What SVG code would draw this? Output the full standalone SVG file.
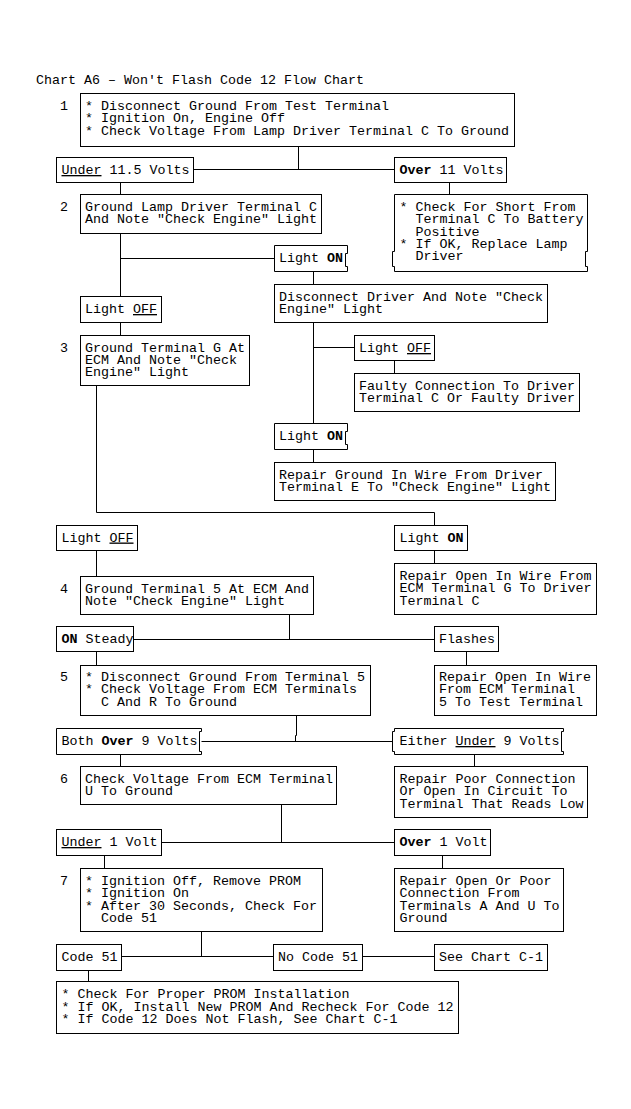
<svg xmlns="http://www.w3.org/2000/svg" width="631" height="1109" viewBox="0 0 631 1109">
<style>
.bx{fill:#fff;stroke:#000;stroke-width:1}
.c{fill:none;stroke:#000;stroke-width:1}
text{font-family:"Liberation Mono","DejaVu Sans Mono",monospace;font-size:13.33px;fill:#000}
.k{font-weight:bold}
.u{text-decoration:underline}
</style>
<rect width="631" height="1109" fill="#fff"/>
<text x="36" y="84">Chart A6 – Won't Flash Code 12 Flow Chart</text>
<g id="connectors">
<path class="c" d="M298.5 146.5V169.5M193.5 169.5H394.5M120.5 182.5V194.5M449.5 182.5V194.5"/>
<path class="c" d="M120.5 233.5V296.5M120.5 258.5H274.5M313.5 271.5V284.5"/>
<path class="c" d="M120.5 322.5V335.5M96.5 385.5V512.5M313.5 322.5V423.5M313.5 347.5H354.5M394.5 360.5V373.5M313.5 449.5V462.5"/>
<path class="c" d="M96.5 512.5H434.5V525.5M96.5 550.5V576.5M434.5 550.5V563.5"/>
<path class="c" d="M289.5 614.5V639.5M133.5 639.5H434.5M96.5 651.5V665.5M466.5 651.5V665.5"/>
<path class="c" d="M296.5 715.5V735.5H295.5V741.5M201.5 741.5H392.5M120.5 754.5V766.5M474.5 754.5V766.5"/>
<path class="c" d="M281.5 804.5V842.5M161.5 842.5H394.5M104.5 855.5V868.5M442.5 855.5V868.5"/>
<path class="c" d="M201.5 931.5V956.5M121.5 956.5H273.5M362.5 956.5H434.5M88.5 970.5V981.5"/>
</g>
<g id="step1">
<text x="60" y="110">1</text>
<rect class="bx" x="80.5" y="93.5" width="434" height="53"/>
<text><tspan x="85" y="110">* Disconnect Ground From Test Terminal</tspan><tspan x="85" y="122.3">* Ignition On, Engine Off</tspan><tspan x="85" y="134.6">* Check Voltage From Lamp Driver Terminal C To Ground</tspan></text>
</g>
<g id="under115">
<rect class="bx" x="56.5" y="157.5" width="137" height="25"/>
<text x="61.5" y="174"><tspan class="u">Under</tspan> 11.5 Volts</text>
</g>
<g id="over11">
<rect class="bx" x="394.5" y="157.5" width="112" height="25"/>
<text x="399.5" y="174"><tspan class="k">Over</tspan> 11 Volts</text>
</g>
<g id="step2">
<text x="60" y="211">2</text>
<rect class="bx" x="80.5" y="194.5" width="241" height="39"/>
<text><tspan x="85" y="211">Ground Lamp Driver Terminal C</tspan><tspan x="85" y="223.3">And Note "Check Engine" Light</tspan></text>
</g>
<g id="shortcheck">
<path class="bx" d="M394.5 194.5H587.5V251.5H585.5V266.5H587.5V271.5H394.5V266.5H392.5V251.5H394.5Z"/>
<text><tspan x="399.5" y="211">* Check For Short From</tspan><tspan x="415.5" y="223.3">Terminal C To Battery</tspan><tspan x="415.5" y="235.6">Positive</tspan><tspan x="399.5" y="247.9">* If OK, Replace Lamp</tspan><tspan x="415.5" y="260.2">Driver</tspan></text>
</g>
<g id="lighton1">
<path class="bx" d="M274.5 245.5H347.5V253.5H345.5V266.5H347.5V271.5H274.5Z"/>
<text x="279" y="262">Light <tspan class="k">ON</tspan></text>
</g>
<g id="disconnectdriver">
<rect class="bx" x="274.5" y="284.5" width="273" height="38"/>
<text><tspan x="279" y="300.5">Disconnect Driver And Note "Check</tspan><tspan x="279" y="312.8">Engine" Light</tspan></text>
</g>
<g id="lightoff1">
<rect class="bx" x="80.5" y="296.5" width="81" height="26"/>
<text x="85" y="313">Light <tspan class="u">OFF</tspan></text>
</g>
<g id="step3">
<text x="60" y="352">3</text>
<rect class="bx" x="80.5" y="335.5" width="169" height="50"/>
<text><tspan x="85" y="351.5">Ground Terminal G At</tspan><tspan x="85" y="363.8">ECM And Note "Check</tspan><tspan x="85" y="376.1">Engine" Light</tspan></text>
</g>
<g id="lightoff2">
<rect class="bx" x="354.5" y="335.5" width="80" height="25"/>
<text x="359" y="352">Light <tspan class="u">OFF</tspan></text>
</g>
<g id="faulty">
<rect class="bx" x="354.5" y="373.5" width="225" height="38"/>
<text><tspan x="359" y="389.5">Faulty Connection To Driver</tspan><tspan x="359" y="401.8">Terminal C Or Faulty Driver</tspan></text>
</g>
<g id="lighton2">
<path class="bx" d="M274.5 423.5H347.5V431.5H345.5V444.5H347.5V449.5H274.5Z"/>
<text x="279" y="440">Light <tspan class="k">ON</tspan></text>
</g>
<g id="repairground">
<rect class="bx" x="274.5" y="462.5" width="281" height="38"/>
<text><tspan x="279" y="478.5">Repair Ground In Wire From Driver</tspan><tspan x="279" y="490.8">Terminal E To "Check Engine" Light</tspan></text>
</g>
<g id="lightoff3">
<rect class="bx" x="56.5" y="525.5" width="81" height="25"/>
<text x="61.5" y="541.5">Light <tspan class="u">OFF</tspan></text>
</g>
<g id="lighton3">
<rect class="bx" x="394.5" y="525.5" width="73" height="25"/>
<text x="399.5" y="541.5">Light <tspan class="k">ON</tspan></text>
</g>
<g id="repairopeng">
<rect class="bx" x="394.5" y="563.5" width="202" height="51"/>
<text><tspan x="399.5" y="580">Repair Open In Wire From</tspan><tspan x="399.5" y="592.3">ECM Terminal G To Driver</tspan><tspan x="399.5" y="604.6">Terminal C</tspan></text>
</g>
<g id="step4">
<text x="60" y="592.5">4</text>
<rect class="bx" x="80.5" y="576.5" width="233" height="38"/>
<text><tspan x="85" y="592.5">Ground Terminal 5 At ECM And</tspan><tspan x="85" y="604.8">Note "Check Engine" Light</tspan></text>
</g>
<g id="onsteady">
<rect class="bx" x="56.5" y="626.5" width="77" height="25"/>
<text x="61.5" y="643"><tspan class="k">ON</tspan> Steady</text>
</g>
<g id="flashes">
<rect class="bx" x="434.5" y="626.5" width="64" height="25"/>
<text x="439" y="643">Flashes</text>
</g>
<g id="step5">
<text x="60" y="681">5</text>
<rect class="bx" x="80.5" y="665.5" width="290" height="50"/>
<text><tspan x="85" y="681">* Disconnect Ground From Terminal 5</tspan><tspan x="85" y="693.3">* Check Voltage From ECM Terminals</tspan><tspan x="101" y="705.6">C And R To Ground</tspan></text>
</g>
<g id="repairopen5">
<rect class="bx" x="434.5" y="665.5" width="162" height="50"/>
<text><tspan x="439" y="681">Repair Open In Wire</tspan><tspan x="439" y="693.3">From ECM Terminal</tspan><tspan x="439" y="705.6">5 To Test Terminal</tspan></text>
</g>
<g id="bothover9">
<path class="bx" d="M56.5 728.5H201.5V731.5H199.5V751.5H201.5V754.5H56.5Z"/>
<text x="61.5" y="745">Both <tspan class="k">Over</tspan> 9 Volts</text>
</g>
<g id="eitherunder9">
<path class="bx" d="M394.5 728.5H563.5V731.5H561.5V751.5H563.5V754.5H394.5V751.5H392.5V731.5H394.5Z"/>
<text x="399.5" y="745">Either <tspan class="u">Under</tspan> 9 Volts</text>
</g>
<g id="step6">
<text x="60" y="783">6</text>
<rect class="bx" x="80.5" y="766.5" width="256" height="38"/>
<text><tspan x="85" y="783">Check Voltage From ECM Terminal</tspan><tspan x="85" y="795.3">U To Ground</tspan></text>
</g>
<g id="repairpoor">
<rect class="bx" x="394.5" y="766.5" width="193" height="51"/>
<text><tspan x="399.5" y="783">Repair Poor Connection</tspan><tspan x="399.5" y="795.3">Or Open In Circuit To</tspan><tspan x="399.5" y="807.6">Terminal That Reads Low</tspan></text>
</g>
<g id="under1">
<rect class="bx" x="56.5" y="829.5" width="105" height="26"/>
<text x="61.5" y="846"><tspan class="u">Under</tspan> 1 Volt</text>
</g>
<g id="over1">
<rect class="bx" x="394.5" y="829.5" width="96" height="26"/>
<text x="399.5" y="846"><tspan class="k">Over</tspan> 1 Volt</text>
</g>
<g id="step7">
<text x="60" y="885">7</text>
<rect class="bx" x="80.5" y="868.5" width="242" height="63"/>
<text><tspan x="85" y="885">* Ignition Off, Remove PROM</tspan><tspan x="85" y="897.3">* Ignition On</tspan><tspan x="85" y="909.6">* After 30 Seconds, Check For</tspan><tspan x="101" y="921.9">Code 51</tspan></text>
</g>
<g id="repairopenpoor">
<rect class="bx" x="394.5" y="868.5" width="169" height="63"/>
<text><tspan x="399.5" y="885">Repair Open Or Poor</tspan><tspan x="399.5" y="897.3">Connection From</tspan><tspan x="399.5" y="909.6">Terminals A And U To</tspan><tspan x="399.5" y="921.9">Ground</tspan></text>
</g>
<g id="code51">
<rect class="bx" x="56.5" y="944.5" width="65" height="26"/>
<text x="61.5" y="961">Code 51</text>
</g>
<g id="nocode51">
<rect class="bx" x="273.5" y="944.5" width="89" height="26"/>
<text x="278" y="961">No Code 51</text>
</g>
<g id="seechart">
<rect class="bx" x="434.5" y="944.5" width="113" height="26"/>
<text x="439" y="961">See Chart C-1</text>
</g>
<g id="final">
<rect class="bx" x="56.5" y="981.5" width="402" height="52"/>
<text><tspan x="61.5" y="998.3">* Check For Proper PROM Installation</tspan><tspan x="61.5" y="1010.6">* If OK, Install New PROM And Recheck For Code 12</tspan><tspan x="61.5" y="1022.9">* If Code 12 Does Not Flash, See Chart C-1</tspan></text>
</g>
</svg>
